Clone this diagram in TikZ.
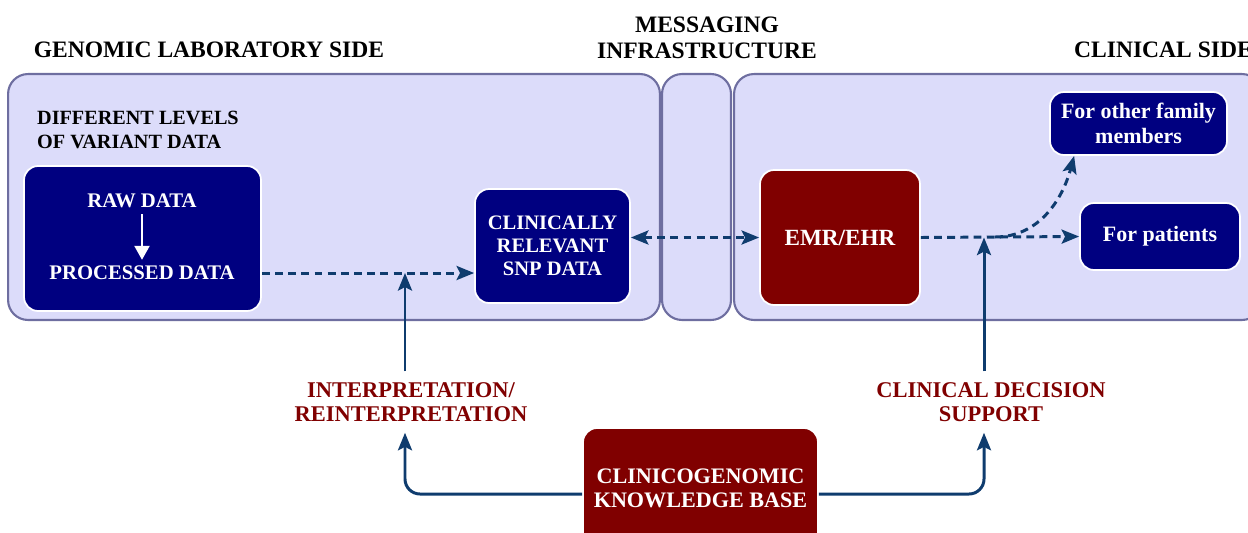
\documentclass[tikz,border=0pt]{standalone}
\usepackage{fontspec}
\setmainfont{Liberation Serif}
\usetikzlibrary{arrows.meta}
\definecolor{panelfill}{HTML}{DCDCFA}
\definecolor{paneldraw}{HTML}{6E6EA0}
\definecolor{boxblue}{HTML}{000080}
\definecolor{boxred}{HTML}{800000}
\definecolor{linkblue}{HTML}{0F3C6E}
\begin{document}
\begin{tikzpicture}[x=0.02cm,y=-0.02cm,
  panel/.style={draw=paneldraw,line width=1.2pt,fill=panelfill,rounded corners=0.4cm,inner sep=0pt},
  side title/.style={font=\fontsize{13.4}{14.8}\selectfont\bfseries,align=center},
  bluebox/.style={draw=white,line width=1pt,fill=boxblue,text=white,rounded corners=0.28cm,align=center,inner sep=0pt},
  redbox/.style={bluebox,fill=boxred},
  step label/.style={text=boxred,font=\fontsize{12.8}{14}\selectfont\bfseries,align=center,inner sep=6pt},
  link/.style={linkblue,line width=1.7pt,-{Stealth[length=10pt,width=8pt,inset=2pt]}},
  dashlink/.style={link,dash pattern=on 4.5pt off 3pt}]
\useasboundingbox (0,0) rectangle (1248,532);
% the three sides
\node[panel,minimum width=13.04cm,minimum height=4.92cm] (lab) at (334,197) {};
\node[panel,minimum width=1.38cm,minimum height=4.92cm] (msg) at (696.5,197) {};
\node[panel,minimum width=10.56cm,minimum height=4.92cm] (clin) at (998,197) {};
\node[side title] (labtitle) at (209,50) {GENOMIC LABORATORY SIDE};
\node[side title] (msgtitle) at (707,38) {MESSAGING\\INFRASTRUCTURE};
\node[side title,anchor=west] (clintitle) at (1068,50) {CLINICAL SIDE};
% lab side
\node[font=\fontsize{11.5}{13.6}\selectfont\bfseries,align=left,anchor=west] (levels) at (31,130) {DIFFERENT LEVELS\\OF VARIANT DATA};
\node[bluebox,minimum width=4.74cm,minimum height=2.9cm] (raw) at (142.5,238.5) {};
\node[text=white,font=\fontsize{11.8}{13}\selectfont\bfseries] (rawtxt) at (142,201) {RAW DATA};
\node[text=white,font=\fontsize{11.8}{13}\selectfont\bfseries] (proctxt) at (142,273) {PROCESSED DATA};
\draw[white,line width=1.5pt,-{Triangle[length=8pt,width=8.5pt]}] (rawtxt) -- (proctxt);
\node[bluebox,minimum width=3.1cm,minimum height=2.28cm,font=\fontsize{11.7}{13}\selectfont\bfseries] (snp) at (552.5,246) {CLINICALLY\\RELEVANT\\SNP DATA};
% clinical side
\node[redbox,minimum width=3.2cm,minimum height=2.7cm,font=\fontsize{13.2}{15}\selectfont\bfseries] (emr) at (840,237.5) {EMR/EHR};
\node[bluebox,minimum width=3.54cm,minimum height=1.26cm,font=\fontsize{12.5}{14.2}\selectfont\bfseries] (family) at (1138.5,123.5) {For other family\\members};
\node[bluebox,minimum width=3.2cm,minimum height=1.34cm,font=\fontsize{12.5}{14.2}\selectfont\bfseries] (patients) at (1160,236.5) {For patients};
% knowledge base and its outputs
\node[redbox,minimum width=4.7cm,minimum height=2.4cm,font=\fontsize{12.6}{13.6}\selectfont\bfseries] (kb) at (700.5,488) {CLINICOGENOMIC\\KNOWLEDGE BASE};
\node[step label] (interp) at (411,402) {INTERPRETATION/\\REINTERPRETATION};
\node[step label] (cds) at (991,402) {CLINICAL DECISION\\SUPPORT};
% dashed data flow
\draw[dashlink] (proctxt -| raw.east) -- (proctxt -| snp.west);
\draw[dashlink,{Stealth[length=10pt,width=8pt,inset=2pt]}-{Stealth[length=10pt,width=8pt,inset=2pt]}] (emr.west -| snp.east) -- (emr.west);
\draw[dashlink] (emr.east) -- (patients.west);
\coordinate (branch) at (995,237);
\draw[dashlink] (branch) to[out=0,in=-105] ([xshift=0.5cm]family.south west);
% solid links
\draw[link] ([xshift=-0.12cm]interp.north) -- ([xshift=-0.12cm]interp.north |- proctxt);
\draw[link] ([xshift=-0.14cm]cds.north) -- ([xshift=-0.14cm]cds.north |- emr.east);
\draw[link,rounded corners=0.3cm] ([yshift=-0.12cm]kb.west) -| ([xshift=-0.12cm]interp.south);
\draw[link,rounded corners=0.3cm] ([yshift=-0.12cm]kb.east) -| ([xshift=-0.14cm]cds.south);
\end{tikzpicture}
\end{document}
